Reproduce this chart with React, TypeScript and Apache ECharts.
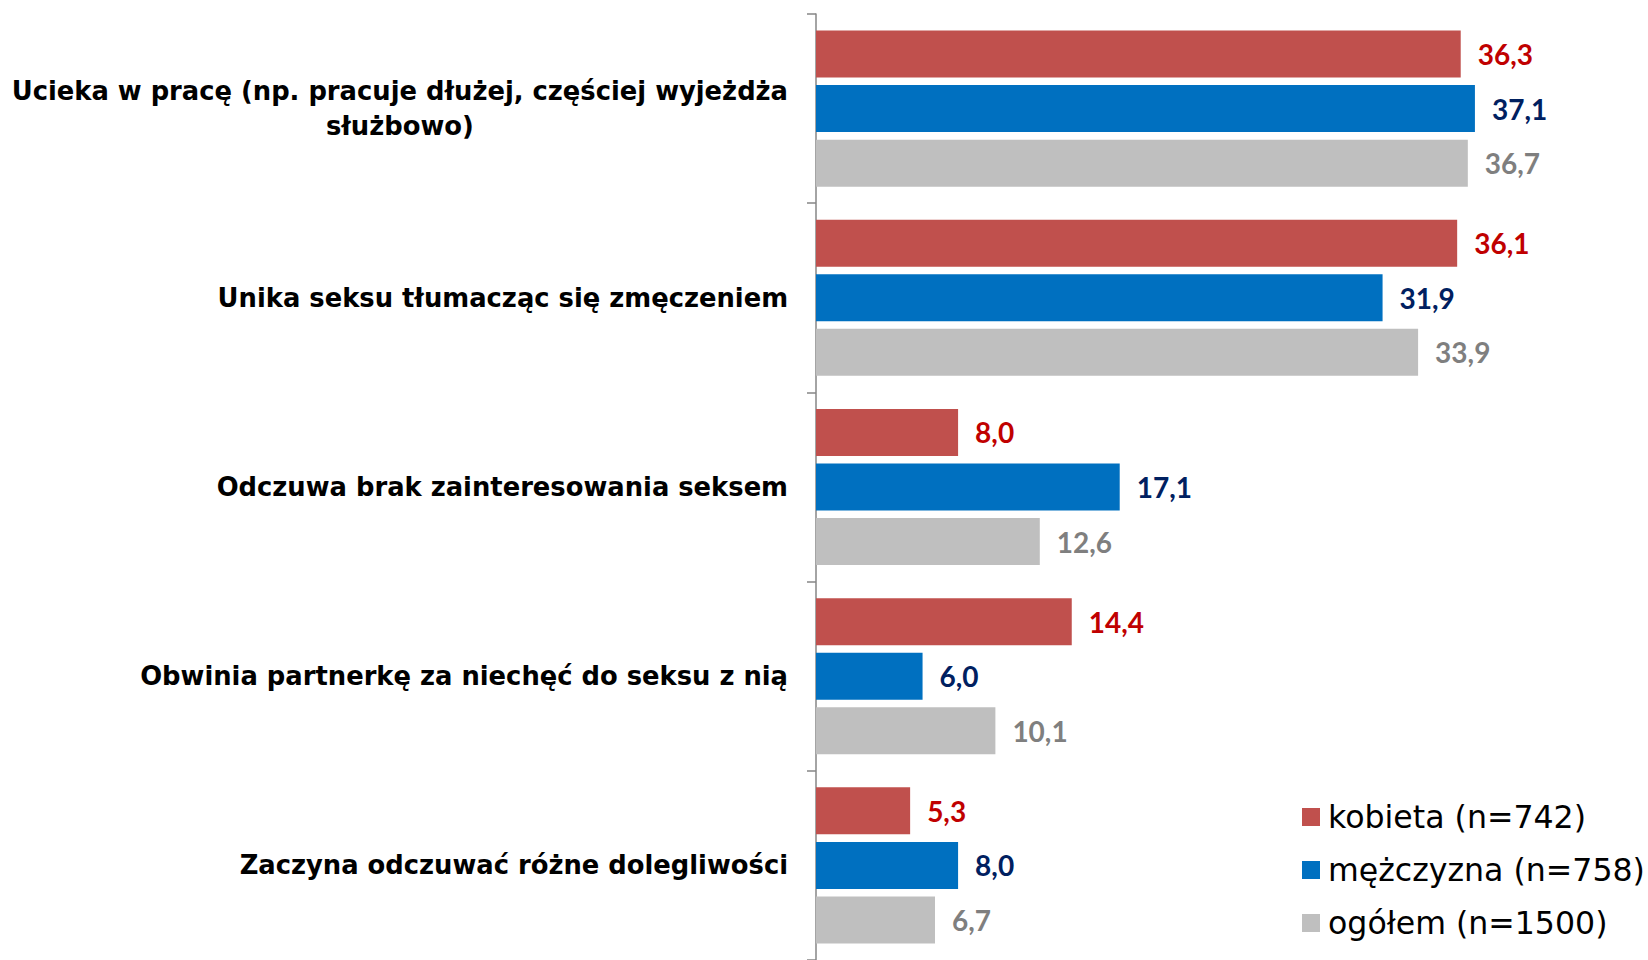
import React, { useEffect, useRef } from "react";
import * as echarts from "echarts";

const categories: string[] = [
  "Ucieka w pracę (np. pracuje dłużej, częściej wyjeżdża\nsłużbowo)",
  "Unika seksu tłumacząc się zmęczeniem",
  "Odczuwa brak zainteresowania seksem",
  "Obwinia partnerkę za niechęć do seksu z nią",
  "Zaczyna odczuwać różne dolegliwości",
];

const seriesNames: string[] = ["kobieta (n=742)", "mężczyzna (n=758)", "ogółem (n=1500)"];
const kobieta: number[] = [36.3, 36.1, 8.0, 14.4, 5.3];
const mezczyzna: number[] = [37.1, 31.9, 17.1, 6.0, 8.0];
const ogolem: number[] = [36.7, 33.9, 12.6, 10.1, 6.7];

const barColors = ["#C0504D", "#0070C0", "#BFBFBF"];
const labelColors = ["#C00000", "#002060", "#7F7F7F"];

export default function App() {
  const ref = useRef<HTMLDivElement>(null);
  useEffect(() => {
    if (!ref.current) return;
    const chart = echarts.init(ref.current, undefined, { renderer: "svg" });
    const data = [kobieta, mezczyzna, ogolem];
    const fmt = (p: any) => Number(p.value).toFixed(1).replace(".", ",");
    chart.setOption({
      animation: false,
      backgroundColor: "#ffffff",
      legend: {
        orient: "vertical",
        left: 1297,
        top: 794,
        itemWidth: 18,
        itemHeight: 18,
        itemGap: 17,
        icon: "rect",
        textStyle: {
          fontFamily: "DejaVu Sans",
          fontSize: 31.6,
          color: "#000000",
          lineHeight: 36,
          padding: [0, 0, 0, 3],
        },
        data: seriesNames,
      },
      grid: { left: 816, top: 14, width: 817, height: 950, containLabel: false },
      xAxis: {
        type: "value",
        min: 0,
        max: 46,
        axisLine: { show: false },
        axisTick: { show: false },
        axisLabel: { show: false },
        splitLine: { show: false },
      },
      yAxis: {
        type: "category",
        inverse: true,
        data: categories,
        axisLine: { show: true, lineStyle: { color: "#868686", width: 1.5 } },
        axisTick: { show: true, length: 9, lineStyle: { color: "#868686", width: 1.5 } },
        axisLabel: {
          margin: 28,
          fontFamily: "DejaVu Sans",
          fontWeight: "bold",
          fontSize: 25.8,
          color: "#000000",
          lineHeight: 35,
          formatter: (v: string) =>
            v
              .split("\n")
              .map((l) => "{c|" + l + "}")
              .join("\n"),
          rich: {
            c: {
              align: "center",
              fontFamily: "DejaVu Sans",
              fontWeight: "bold",
              fontSize: 25.8,
              color: "#000000",
              lineHeight: 35,
            },
          },
        },
      },
      series: seriesNames.map((name, i) => ({
        name,
        type: "bar",
        data: data[i],
        barCategoryGap: "17.5%",
        barGap: "16%",
        itemStyle: { color: barColors[i] },
        label: {
          show: true,
          position: "right",
          distance: 17,
          formatter: fmt,
          fontFamily: "Lato",
          fontWeight: "bold",
          fontSize: 28,
          color: labelColors[i],
          padding: [0, 0, 3, 0],
        },
      })),
    });
    return () => chart.dispose();
  }, []);
  return (
    <div
      ref={ref}
      style={{ position: "fixed", left: 0, top: 0, width: 1648, height: 960 }}
    />
  );
}
